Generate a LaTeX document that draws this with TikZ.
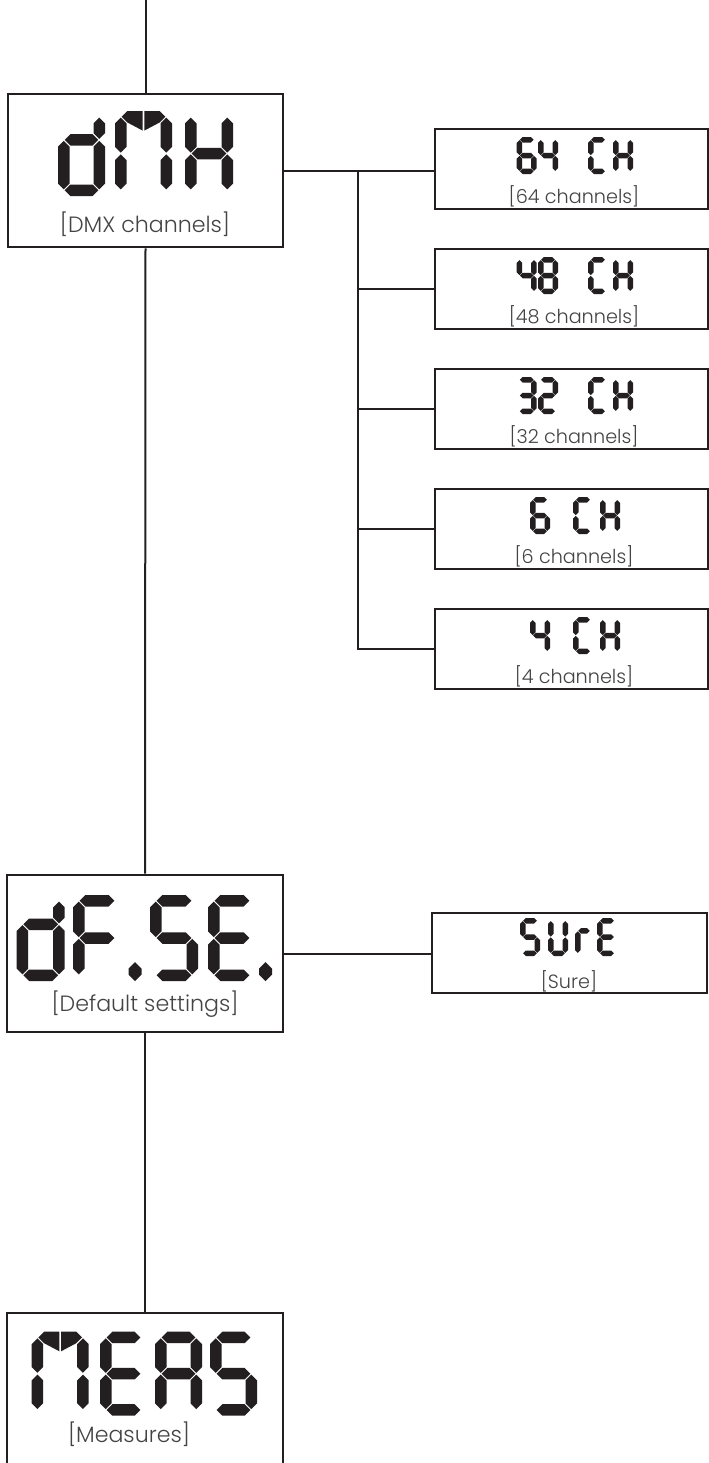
\documentclass[tikz,border=0pt]{standalone}
\usepackage{fontspec}
\newfontfamily\labfont{Poppins Light}
\definecolor{segc}{HTML}{231F20}
\definecolor{labc}{HTML}{444444}
\tikzset{
  box/.style={draw=segc, line width=2pt, fill=white, inner sep=0pt},
  link/.style={draw=segc, line width=1.5pt},
  lab/.style={font=\labfont\fontsize{16.6}{19}\selectfont, text=labc, inner sep=0pt},
  slab/.style={font=\labfont\fontsize{14.4}{17}\selectfont, text=labc, inner sep=0pt},
}
% horizontal and vertical hexagon segments (local pixel coords, y down)
\newcommand\hx[3]{\fill[segc] ({#1},{#3}) -- ({#1+\qh},{#3-\qh}) -- ({#2-\qh},{#3-\qh}) -- ({#2},{#3}) -- ({#2-\qh},{#3+\qh}) -- ({#1+\qh},{#3+\qh}) -- cycle;}
\newcommand\vx[3]{\fill[segc] ({#1},{#2}) -- ({#1+\qh},{#2+\qh}) -- ({#1+\qh},{#3-\qh}) -- ({#1},{#3}) -- ({#1-\qh},{#3-\qh}) -- ({#1-\qh},{#2+\qh}) -- cycle;}
\def\segXa{\hx{\qh+\qG}{\qW-\qh-\qG}{\qh}}
\def\segXb{\vx{\qW-\qh}{\qh+\qG}{\qM-\qG}}
\def\segXc{\vx{\qW-\qh}{\qM+\qG}{\qH-\qh-\qG}}
\def\segXd{\hx{\qh+\qG}{\qW-\qh-\qG}{\qH-\qh}}
\def\segXe{\vx{\qh}{\qM+\qG}{\qH-\qh-\qG}}
\def\segXf{\vx{\qh}{\qh+\qG}{\qM-\qG}}
\def\segXg{\hx{\qh+\qG}{\qW-\qh-\qG}{\qM}}
% lowercase variants with raised middle
\def\segXB{\vx{\qW-\qh}{\qh+\qG}{\qL-\qG}}
\def\segXC{\vx{\qW-\qh}{\qL+\qG}{\qH-\qh-\qG}}
\def\segXE{\vx{\qh}{\qL+\qG}{\qH-\qh-\qG}}
\def\segXG{\hx{\qh+\qG}{\qW-\qh-\qG}{\qL}}
% split top of M
\def\segXp{\fill[segc] ({\qh+\qG},{\qh}) -- ({\qT+\qG},0) -- ({\qW/2-\qG},0) -- ({\qW/2-\qG},{1.7*\qT}) -- ({\qT+\qG},{\qT}) -- cycle;}
\def\segXq{\fill[segc] ({\qW-\qh-\qG},{\qh}) -- ({\qW-\qT-\qG},0) -- ({\qW/2+\qG},0) -- ({\qW/2+\qG},{1.7*\qT}) -- ({\qW-\qT-\qG},{\qT}) -- cycle;}
% #1 left, #2 top, #3 width, #4 height, #5 thickness, #6 segments
\newcommand\ssg[6]{%
  \begin{scope}[shift={(#1,#2)}]
    \pgfmathsetmacro\qW{#3}\pgfmathsetmacro\qH{#4}\pgfmathsetmacro\qT{#5}%
    \pgfmathsetmacro\qh{#5/2}\pgfmathsetmacro\qM{#4/2}\pgfmathsetmacro\qL{#4*0.34}%
    \pgfmathsetmacro\qG{#5*0.08}%
    \foreach \s in {#6}{\csname segX\s\endcsname}
  \end{scope}}
% decimal point: centre x, top, bottom, half width
\newcommand\ssdot[4]{\fill[segc] (#1,#2) -- ({#1+#4},{#2+#4}) -- ({#1+#4},{#3-#4}) -- (#1,#3) -- ({#1-#4},{#3-#4}) -- ({#1-#4},{#2+#4}) -- cycle;}
\begin{document}
\begin{tikzpicture}[x=0.75pt,y=-0.75pt]
\clip (0,0) rectangle (709,1463);
% boxes
\node[box, minimum width=275*0.75pt, minimum height=153*0.75pt] (dmx) at (145.5,170.5) {};
\node[box, minimum width=276*0.75pt, minimum height=157*0.75pt] (dfse) at (145,953.5) {};
\node[box, minimum width=276*0.75pt, minimum height=190*0.75pt] (meas) at (145,1408) {};
\node[box, minimum width=273*0.75pt, minimum height=80*0.75pt] (ch64) at (571.5,169) {};
\node[box, minimum width=273*0.75pt, minimum height=80*0.75pt] (ch48) at (571.5,289) {};
\node[box, minimum width=273*0.75pt, minimum height=80*0.75pt] (ch32) at (571.5,409) {};
\node[box, minimum width=273*0.75pt, minimum height=80*0.75pt] (ch6) at (571.5,529) {};
\node[box, minimum width=273*0.75pt, minimum height=80*0.75pt] (ch4) at (571.5,649) {};
\node[box, minimum width=275*0.75pt, minimum height=80*0.75pt] (sure) at (569.5,953) {};
% connectors
\coordinate (top) at (145.5,0);
\coordinate (br) at (358,170.5);
\draw[link] (top) -- (dmx.north);
\draw[link] (dmx.south) -- (dfse.north);
\draw[link] (dfse.south) -- (meas.north);
\draw[link] (dmx.east) -- (dmx.east -| ch64.west);
\draw[link] (br) |- (ch48.west);
\draw[link] (br) |- (ch32.west);
\draw[link] (br) |- (ch6.west);
\draw[link] (br) |- (ch4.west);
\draw[link] (dfse.east) -- (dfse.east -| sure.west);
% big displays
\ssg{58}{111}{47}{85}{11.5}{B,C,d,E,G}
\ssg{115}{111}{57}{85}{11.5}{p,q,b,c,e,f}
\ssg{185}{111}{48}{85}{11.5}{b,c,e,f,g}
\ssg{16.7}{895}{48}{86}{11.5}{B,C,d,E,G}
\ssg{73}{895}{48}{86}{11.5}{a,f,g,e}
\ssdot{135}{962}{981}{6.5}
\ssg{150}{895}{48}{86}{11.5}{a,f,g,c,d}
\ssg{208}{895}{48}{86}{11.5}{a,f,g,e,d}
\ssdot{265.5}{962}{981}{6.5}
\ssg{31.7}{1331.7}{57}{84}{11.5}{p,q,b,c,e,f}
\ssg{100}{1331.7}{47}{84}{11.5}{a,f,g,e,d}
\ssg{155}{1331.7}{47}{84}{11.5}{a,b,c,e,f,g}
\ssg{210}{1331.7}{47}{84}{11.5}{a,f,g,c,d}
% small displays
\ssg{516.7}{137}{20}{37}{5.5}{a,f,g,e,d,c}
\ssg{538}{137}{20}{37}{5.5}{f,g,b,c}
\ssg{588}{137}{20}{37}{5.5}{a,f,e,d}
\ssg{613}{137}{20}{37}{5.5}{f,e,b,c,g}
\ssg{516.7}{257}{20}{37}{5.5}{f,g,b,c}
\ssg{538}{257}{20}{37}{5.5}{a,b,c,d,e,f,g}
\ssg{588}{257}{20}{37}{5.5}{a,f,e,d}
\ssg{613}{257}{20}{37}{5.5}{f,e,b,c,g}
\ssg{516.7}{377}{20}{37}{5.5}{a,b,g,c,d}
\ssg{538}{377}{20}{37}{5.5}{a,b,g,e,d}
\ssg{588}{377}{20}{37}{5.5}{a,f,e,d}
\ssg{613}{377}{20}{37}{5.5}{f,e,b,c,g}
\ssg{530}{497}{20}{37}{5.5}{a,f,g,e,d,c}
\ssg{573}{497}{20}{37}{5.5}{a,f,e,d}
\ssg{600}{497}{20}{37}{5.5}{f,e,b,c,g}
\ssg{530}{617}{20}{37}{5.5}{f,g,b,c}
\ssg{573}{617}{20}{37}{5.5}{a,f,e,d}
\ssg{600}{617}{20}{37}{5.5}{f,e,b,c,g}
\ssg{520}{918}{20}{38}{5.5}{a,f,g,c,d}
\ssg{548}{918}{20}{38}{5.5}{f,e,d,c,b}
\ssg{575}{918}{18}{38}{5.5}{E,G}
\ssg{597}{918}{20}{38}{5.5}{a,f,g,e,d}
% labels
\node[lab] (ldmx) at (145,224) {[DMX channels]};
\node[lab] (ldfse) at (145,1004) {[Default settings]};
\node[lab] (lmeas) at (129,1434) {[Measures]};
\node[slab] (l64) at (574,196.5) {[64 channels]};
\node[slab] (l48) at (574,316.5) {[48 channels]};
\node[slab] (l32) at (574,436.5) {[32 channels]};
\node[slab] (l6) at (574,556.5) {[6 channels]};
\node[slab] (l4) at (574,676.5) {[4 channels]};
\node[slab] (lsure) at (569,981) {[Sure]};
\end{tikzpicture}
\end{document}
